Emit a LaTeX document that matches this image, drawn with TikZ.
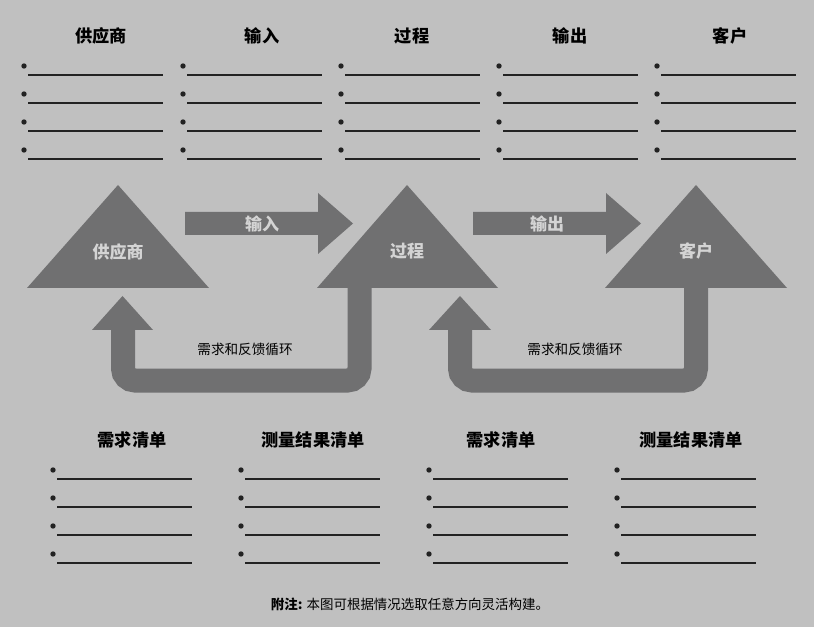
\documentclass[tikz,border=0pt]{standalone}
\usepackage{fontspec}
\setmainfont{Noto Sans CJK SC}
\usepackage{xcolor}
\usetikzlibrary{positioning}
\definecolor{bggray}{RGB}{192,192,192}
\definecolor{blockgray}{RGB}{112,112,113}
\definecolor{lightlbl}{RGB}{212,212,212}
\definecolor{inkline}{RGB}{34,34,34}

\begin{document}
\begin{tikzpicture}[
 x=0.75pt,y=-0.75pt,
 heading/.style={font=\bfseries\fontsize{12.9}{15}\selectfont,text=black,inner sep=0pt},
 inlabel/.style={font=\bfseries\fontsize{12.75}{15}\selectfont,text=lightlbl,inner sep=0pt},
 looplabel/.style={font=\fontsize{10.2}{12}\selectfont,text=black,inner sep=0pt},
 blockfill/.style={fill=blockgray},
 loopline/.style={draw=blockgray,line width=18pt,rounded corners=9pt},
 fillin/.style={draw=inkline,line width=1.1pt},
 bullet/.style={fill=inkline}]
\fill[bggray] (0,0) rectangle (814,627);
\useasboundingbox (0,0) rectangle (814,627);
% column headings
\node[heading] (hsup) at (101,36) {供应商};
\node[heading] (hin) at (262,36) {输入};
\node[heading] (hproc) at (412,36) {过程};
\node[heading] (hout) at (570,36) {输出};
\node[heading] (hcust) at (730,36) {客户};
\foreach \bx in {24,183,341,499,657}
 \foreach \by in {66,94,122,150}{
  \fill[bullet] (\bx,\by) circle (2.7);
  \draw[fillin] (\bx+4,\by+9) -- (\bx+139,\by+9);
 }
% triangles
\coordinate (sup-top) at (118,185);
\coordinate (proc-top) at (407,185);
\coordinate (cust-top) at (696,185);
\fill[blockfill] (sup-top) -- (209,288) -- (27,288) -- cycle;
\fill[blockfill] (proc-top) -- (498,288) -- (317,288) -- cycle;
\fill[blockfill] (cust-top) -- (787,288) -- (605,288) -- cycle;
\node[inlabel] (sup) at (118,252) {供应商};
\node[inlabel] (proc) at (407,251) {过程};
\node[inlabel] (cust) at (696,251) {客户};
% forward block arrows
\fill[blockfill] (185,212) -- (318,212) -- (318,193) -- (353,223.5)
 -- (318,254) -- (318,235) -- (185,235) -- cycle;
\node[inlabel] (inarr) at (262,223.5) {输入};
\fill[blockfill] (473,212) -- (606,212) -- (606,193) -- (641,223.5)
 -- (606,254) -- (606,235) -- (473,235) -- cycle;
\node[inlabel] (outarr) at (547,223.5) {输出};
% feedback loops
\draw[loopline] (359.5,287) -- (359.5,380.5) -- (123,380.5) -- (123,329);
\fill[blockfill] (92,330) -- (122.5,296) -- (153,330) -- cycle;
\node[looplabel] (fb1) at (245,349) {需求和反馈循环};
\draw[loopline] (696,287) -- (696,380.5) -- (460,380.5) -- (460,329);
\fill[blockfill] (429,330) -- (460,296) -- (491,330) -- cycle;
\node[looplabel] (fb2) at (575,349) {需求和反馈循环};
% lists
\node[heading] (need1) at (132,440) {需求清单};
\node[heading] (meas1) at (313,440) {测量结果清单};
\node[heading] (need2) at (501,440) {需求清单};
\node[heading] (meas2) at (691,440) {测量结果清单};
\foreach \bx in {53,241,429,617}
 \foreach \by in {470,498,526,554}{
  \fill[bullet] (\bx,\by) circle (2.7);
  \draw[fillin] (\bx+4,\by+9) -- (\bx+139,\by+9);
 }
\node[looplabel,font=\fontsize{10.1}{12}\selectfont] (note) at (410,604)
 {{\bfseries 附注:} 本图可根据情况选取任意方向灵活构建。};
\end{tikzpicture}
\end{document}
